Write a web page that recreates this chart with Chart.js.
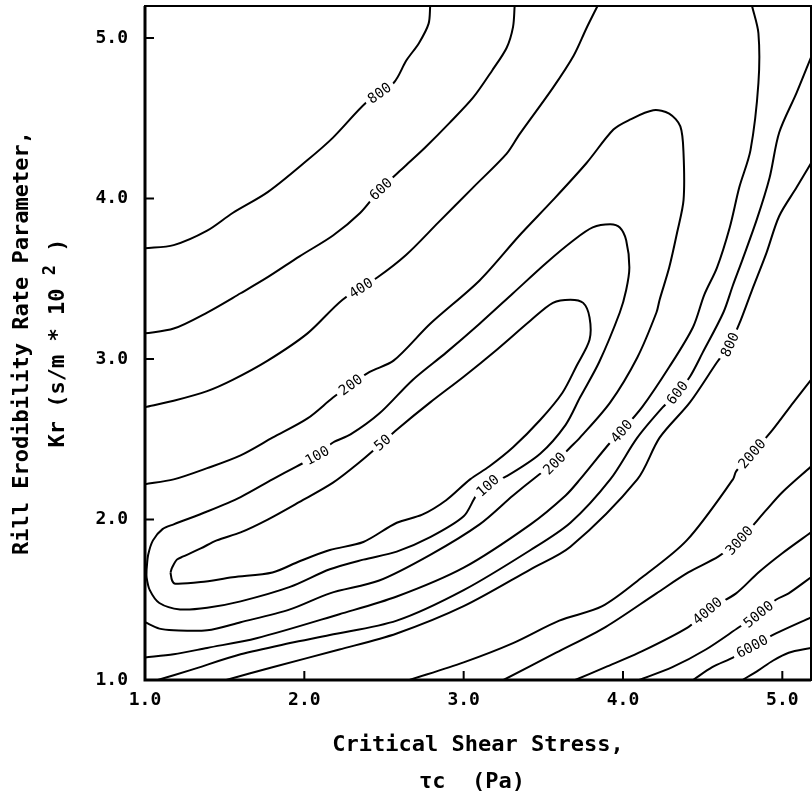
<!DOCTYPE html>
<html>
<head>
<meta charset="utf-8">
<script src="https://cdn.jsdelivr.net/npm/chart.js@4.4.0/dist/chart.umd.min.js"></script>
<style>
  html, body { margin: 0; padding: 0; background: #fff; }
</style>
</head>
<body>
<canvas id="chart" width="812" height="800"></canvas>
<script>
// contour lines, [tau_c, Kr] pairs
const c50 = [[1.16,1.67],[1.17,1.70],[1.20,1.75],[1.24,1.77],[1.35,1.82],[1.45,1.87],[1.60,1.92],[1.77,2.00],[1.97,2.11],[2.18,2.23],[2.35,2.36],[2.49,2.48],[2.58,2.56],[2.79,2.73],[3.00,2.89],[3.21,3.06],[3.42,3.24],[3.56,3.35],[3.67,3.37],[3.75,3.35],[3.79,3.26],[3.79,3.12],[3.71,2.96],[3.62,2.79],[3.48,2.62],[3.31,2.45],[3.16,2.33],[3.04,2.25],[2.89,2.12],[2.74,2.03],[2.58,1.98],[2.37,1.86],[2.16,1.81],[1.97,1.74],[1.80,1.67],[1.55,1.64],[1.35,1.61],[1.19,1.60],[1.17,1.62],[1.16,1.67]];
const c100 = [[1.01,1.69],[1.02,1.78],[1.05,1.87],[1.11,1.94],[1.18,1.97],[1.39,2.05],[1.60,2.14],[1.80,2.25],[1.95,2.33],[2.08,2.40],[2.18,2.48],[2.29,2.53],[2.47,2.66],[2.68,2.87],[2.89,3.04],[3.10,3.22],[3.31,3.41],[3.52,3.60],[3.69,3.74],[3.81,3.82],[3.92,3.84],[3.98,3.82],[4.02,3.74],[4.04,3.57],[4.02,3.43],[3.98,3.29],[3.85,2.98],[3.73,2.76],[3.64,2.59],[3.48,2.41],[3.27,2.27],[3.16,2.22],[3.08,2.15],[3.00,2.02],[2.79,1.89],[2.58,1.80],[2.37,1.75],[2.16,1.69],[1.91,1.58],[1.60,1.49],[1.39,1.45],[1.22,1.44],[1.09,1.48],[1.03,1.56],[1.01,1.64],[1.01,1.69]];
const c200 = [[1.0,2.22],[1.18,2.25],[1.39,2.32],[1.60,2.40],[1.80,2.51],[2.02,2.63],[2.18,2.76],[2.29,2.84],[2.41,2.92],[2.56,2.99],[2.79,3.22],[3.10,3.49],[3.35,3.77],[3.56,3.99],[3.77,4.22],[3.94,4.43],[4.04,4.49],[4.19,4.55],[4.29,4.53],[4.36,4.45],[4.38,4.28],[4.38,3.99],[4.34,3.79],[4.29,3.57],[4.23,3.37],[4.21,3.29],[4.09,3.01],[3.92,2.73],[3.73,2.51],[3.67,2.45],[3.57,2.35],[3.46,2.27],[3.31,2.15],[3.10,1.97],[2.79,1.78],[2.47,1.62],[2.16,1.54],[1.91,1.44],[1.60,1.36],[1.39,1.31],[1.18,1.31],[1.09,1.32],[1.0,1.36]];
const c400a = [[1.0,2.70],[1.18,2.74],[1.39,2.80],[1.55,2.87],[1.77,2.99],[2.02,3.16],[2.24,3.37],[2.46,3.51],[2.64,3.65],[2.84,3.85],[3.06,4.07],[3.27,4.28],[3.35,4.40],[3.56,4.69],[3.69,4.89],[3.77,5.06],[3.84,5.2]];
const c400b = [[4.81,5.2],[4.85,5.03],[4.85,4.72],[4.80,4.30],[4.73,4.07],[4.67,3.82],[4.59,3.57],[4.51,3.40],[4.44,3.20],[4.29,2.95],[4.12,2.70],[3.99,2.55],[3.92,2.48],[3.73,2.25],[3.64,2.15],[3.42,1.97],[3.00,1.70],[2.58,1.52],[2.22,1.41],[1.70,1.26],[1.39,1.20],[1.18,1.16],[1.0,1.14]];
const c600a = [[1.0,3.16],[1.18,3.19],[1.39,3.29],[1.60,3.41],[1.77,3.51],[1.97,3.64],[2.18,3.77],[2.35,3.91],[2.47,4.05],[2.63,4.20],[2.76,4.32],[2.91,4.47],[3.06,4.63],[3.18,4.80],[3.27,4.94],[3.31,5.07],[3.32,5.2]];
const c600b = [[5.18,4.88],[5.09,4.66],[4.98,4.41],[4.92,4.13],[4.84,3.87],[4.75,3.62],[4.69,3.46],[4.63,3.29],[4.50,3.04],[4.42,2.89],[4.34,2.79],[4.25,2.70],[4.09,2.51],[3.92,2.25],[3.67,1.98],[3.42,1.81],[3.00,1.56],[2.58,1.37],[2.16,1.28],[1.91,1.23],[1.60,1.16],[1.28,1.06],[1.08,1.0]];
const c800a = [[1.0,3.69],[1.18,3.71],[1.39,3.80],[1.55,3.91],[1.77,4.04],[2.02,4.24],[2.18,4.38],[2.39,4.60],[2.56,4.72],[2.64,4.86],[2.72,4.97],[2.78,5.09],[2.79,5.2]];
const c800b = [[5.18,4.22],[5.09,4.07],[4.98,3.89],[4.90,3.66],[4.81,3.43],[4.73,3.22],[4.67,3.09],[4.59,2.98],[4.42,2.73],[4.23,2.51],[4.09,2.25],[3.67,1.83],[3.42,1.69],[3.00,1.46],[2.58,1.29],[2.22,1.19],[1.80,1.08],[1.51,1.0]];
const c2000 = [[5.18,2.87],[5.07,2.73],[4.94,2.56],[4.81,2.41],[4.71,2.30],[4.69,2.25],[4.40,1.87],[4.12,1.64],[3.87,1.46],[3.60,1.37],[3.31,1.23],[3.00,1.11],[2.66,1.0]];
const c3000 = [[5.18,2.33],[5.00,2.17],[4.90,2.06],[4.73,1.87],[4.60,1.77],[4.41,1.67],[4.21,1.54],[3.89,1.33],[3.58,1.17],[3.25,1.0]];
const c4000 = [[5.18,1.92],[5.00,1.79],[4.85,1.67],[4.71,1.54],[4.54,1.44],[4.41,1.33],[4.10,1.17],[3.89,1.08],[3.70,1.0]];
const c5000 = [[5.18,1.64],[5.04,1.54],[4.96,1.50],[4.85,1.41],[4.73,1.33],[4.52,1.19],[4.31,1.08],[4.10,1.0]];
const c6000 = [[5.18,1.39],[4.96,1.29],[4.81,1.21],[4.69,1.14],[4.56,1.08],[4.44,1.0]];
const c7000 = [[5.18,1.20],[5.04,1.17],[4.94,1.12],[4.85,1.06],[4.75,1.0]];

const contours = [c50, c100, c200, c400a, c400b, c600a, c600b, c800a, c800b, c2000, c3000, c4000, c5000, c6000, c7000];

// contour labels
const labelText = ['800', '600', '400', '200', '100', '50', '100', '200', '400', '600', '800', '2000', '3000', '4000', '5000', '6000'];
const labelX = [2.47, 2.47, 2.35, 2.29, 2.08, 2.49, 3.16, 3.57, 3.99, 4.34, 4.67, 4.81, 4.73, 4.54, 4.85, 4.81];
const labelY = [4.66, 4.07, 3.45, 2.84, 2.40, 2.48, 2.20, 2.35, 2.55, 2.79, 3.09, 2.41, 1.87, 1.42, 1.41, 1.21];
const labelLine = [c800a, c600a, c400a, c200, c100, c50, c100, c200, c400b, c600b, c800b, c2000, c3000, c4000, c5000, c6000];

const xTicks = [1, 2, 3, 4, 5];
const yTicks = [1, 2, 3, 4, 5];

const MONO = '"DejaVu Sans Mono", "Liberation Mono", monospace';

const contourLabels = {
  id: 'contourLabels',
  afterDatasetsDraw(chart) {
    const { ctx, scales: { x, y } } = chart;
    ctx.save();
    ctx.font = '14px ' + MONO;
    ctx.textAlign = 'center';
    ctx.textBaseline = 'middle';
    labelText.forEach((t, i) => {
      let px = x.getPixelForValue(labelX[i]);
      let py = y.getPixelForValue(labelY[i]);
      const line = labelLine[i].map(p => [x.getPixelForValue(p[0]), y.getPixelForValue(p[1])]);
      let best = 0, bd = Infinity, bx = px, by = py;
      for (let k = 0; k < line.length - 1; k++) {
        const [x1, y1] = line[k], [x2, y2] = line[k + 1];
        const dx = x2 - x1, dy = y2 - y1;
        let u = ((px - x1) * dx + (py - y1) * dy) / (dx * dx + dy * dy);
        u = Math.max(0, Math.min(1, u));
        const qx = x1 + u * dx, qy = y1 + u * dy;
        const d = (qx - px) ** 2 + (qy - py) ** 2;
        if (d < bd) { bd = d; best = k; bx = qx; by = qy; }
      }
      let a = Math.atan2(line[best + 1][1] - line[best][1], line[best + 1][0] - line[best][0]);
      if (a > Math.PI / 2) a -= Math.PI;
      if (a < -Math.PI / 2) a += Math.PI;
      const w = ctx.measureText(t).width;
      ctx.save();
      ctx.translate(bx, by);
      ctx.rotate(a);
      ctx.fillStyle = '#fff';
      ctx.fillRect(-w / 2 - 4, -6, w + 8, 12);
      ctx.fillStyle = '#000';
      ctx.fillText(t, 0, 1);
      ctx.restore();
    });
    ctx.restore();
  }
};

const frameAndTitles = {
  id: 'frameAndTitles',
  afterDraw(chart) {
    const { ctx, chartArea: a, scales: { x, y } } = chart;
    ctx.save();
    ctx.strokeStyle = '#000';
    ctx.lineWidth = 2;
    ctx.strokeRect(a.left, a.top, a.right - a.left, a.bottom - a.top);
    ctx.lineWidth = 3;
    ctx.beginPath();
    ctx.moveTo(a.left, a.top); ctx.lineTo(a.left, a.bottom); ctx.lineTo(a.right, a.bottom);
    ctx.stroke();
    // inward tick marks
    ctx.lineWidth = 2;
    ctx.beginPath();
    xTicks.slice(1).forEach(v => {
      const px = x.getPixelForValue(v);
      ctx.moveTo(px, a.bottom); ctx.lineTo(px, a.bottom - 9);
    });
    yTicks.slice(1).forEach(v => {
      const py = y.getPixelForValue(v);
      ctx.moveTo(a.left, py); ctx.lineTo(a.left + 9, py);
    });
    ctx.stroke();

    // axis titles
    ctx.fillStyle = '#000';
    ctx.font = 'bold 22px ' + MONO;
    ctx.textAlign = 'center';
    ctx.textBaseline = 'middle';
    const cx = (a.left + a.right) / 2;
    ctx.fillText('Critical Shear Stress,', cx, 745);
    ctx.fillText('\u03C4c  (Pa)', cx - 6, 782);

    const cy = (a.top + a.bottom) / 2;
    ctx.save();
    ctx.translate(22, cy);
    ctx.rotate(-Math.PI / 2);
    ctx.fillText('Rill Erodibility Rate Parameter,', 0, 0);
    ctx.restore();

    ctx.save();
    ctx.translate(58, cy);
    ctx.rotate(-Math.PI / 2);
    ctx.textAlign = 'left';
    const p1 = 'Kr (s/m * 10 ', p2 = '2', p3 = ' )';
    const w1 = ctx.measureText(p1).width;
    ctx.font = 'bold 17px ' + MONO;
    const w2 = ctx.measureText(p2).width;
    ctx.font = 'bold 22px ' + MONO;
    const w3 = ctx.measureText(p3).width;
    let sx = -(w1 + w2 + w3) / 2;
    ctx.fillText(p1, sx, 0);
    ctx.font = 'bold 17px ' + MONO;
    ctx.fillText(p2, sx + w1, -7);
    ctx.font = 'bold 22px ' + MONO;
    ctx.fillText(p3, sx + w1 + w2, 0);
    ctx.restore();
    ctx.restore();
  }
};

const datasets = contours.map(c => ({
  data: c.map(p => ({ x: p[0], y: p[1] })),
  showLine: true,
  borderColor: '#000',
  borderWidth: 2,
  pointRadius: 0,
  tension: 0.3,
  fill: false
}));

new Chart(document.getElementById('chart'), {
  type: 'scatter',
  data: { datasets },
  options: {
    responsive: false,
    animation: false,
    layout: { padding: { top: 6, right: 1, left: 0, bottom: 0 } },
    plugins: { legend: { display: false }, tooltip: { enabled: false } },
    scales: {
      x: {
        type: 'linear', min: 1, max: 5.18,
        afterFit: s => { s.height = 120; s.paddingLeft = 0; s.paddingRight = 0; },
        afterBuildTicks: s => { s.ticks = xTicks.map(v => ({ value: v })); },
        grid: { display: false, drawTicks: false },
        border: { display: false },
        ticks: {
          padding: 10,
          color: '#000',
          font: { family: MONO, size: 18, weight: 'bold' },
          callback: v => Number(v).toFixed(1)
        }
      },
      y: {
        type: 'linear', min: 1, max: 5.2,
        afterFit: s => { s.width = 145; s.paddingTop = 0; s.paddingBottom = 0; },
        afterBuildTicks: s => { s.ticks = yTicks.map(v => ({ value: v })); },
        grid: { display: false, drawTicks: false },
        border: { display: false },
        ticks: {
          padding: 17,
          color: '#000',
          font: { family: MONO, size: 18, weight: 'bold' },
          callback: v => Number(v).toFixed(1)
        }
      }
    }
  },
  plugins: [contourLabels, frameAndTitles]
});
</script>
</body>
</html>
